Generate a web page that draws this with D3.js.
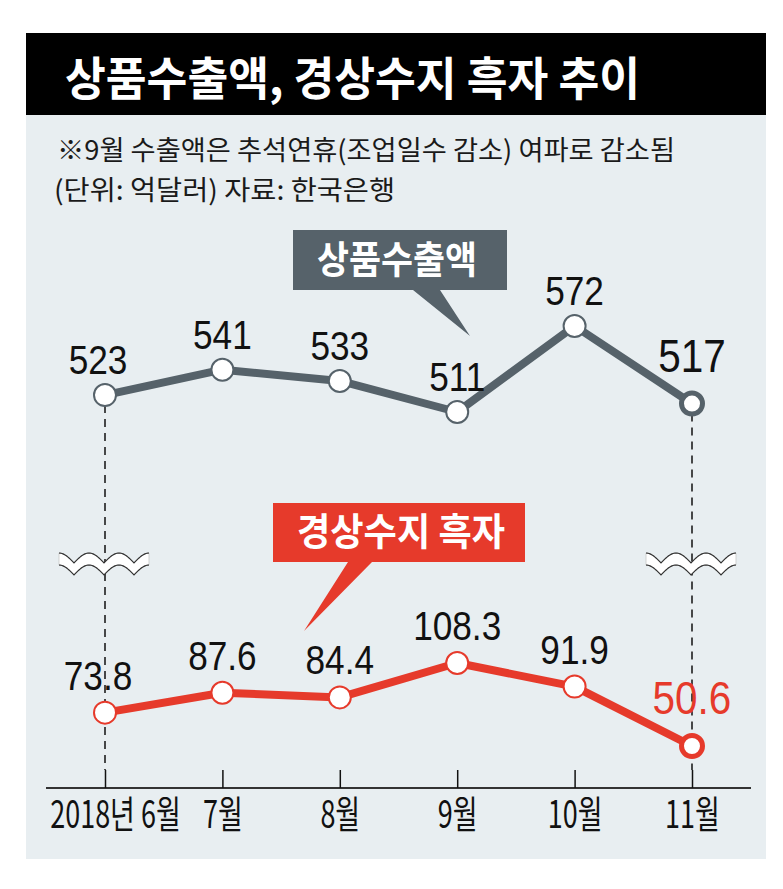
<!DOCTYPE html>
<html>
<head>
<meta charset="utf-8">
<script src="https://cdn.jsdelivr.net/npm/d3@7"></script>
<style>
body { margin: 0; background: #ffffff; }
</style>
</head>
<body>
<svg id="chart" width="783" height="889"></svg>
<script>
//Data
var months = ["2018년 6월", "7월", "8월", "9월", "10월", "11월"];
var exportValues = [523, 541, 533, 511, 572, 517];
var surplusValues = [73.8, 87.6, 84.4, 108.3, 91.9, 50.6];
var titleText = "상품수출액, 경상수지 흑자 추이";
var noteText = "※9월 수출액은 추석연휴(조업일수 감소) 여파로 감소됨";
var unitText = "(단위: 억달러) 자료: 한국은행";
var exportName = "상품수출액";
var surplusName = "경상수지 흑자";

var grayColor = "#56626a";
var redColor = "#e63a2b";
var krFont = "'Noto Sans CJK KR', 'Noto Sans', sans-serif";
var numFont = "'Liberation Sans', Arial, sans-serif";

var svg = d3.select("#chart");

//Squeeze text to look condensed
function condense(sel, k) {
    sel.each(function() {
        var w = this.getComputedTextLength();
        d3.select(this).attr("textLength", w * k).attr("lengthAdjust", "spacingAndGlyphs");
    });
}
function fitWidth(sel, w) {
    sel.attr("textLength", w).attr("lengthAdjust", "spacingAndGlyphs");
}

//Panel + title bar
svg.append("rect").attr("x", 26).attr("y", 115).attr("width", 740).attr("height", 744).style("fill", "#e8eef1");
svg.append("rect").attr("x", 26).attr("y", 33).attr("width", 740).attr("height", 82).style("fill", "#000000");

svg.append("text")
    .attr("x", 65).attr("y", 95)
    .style("font-family", krFont).style("font-weight", "bold").style("font-size", "46px")
    .style("fill", "#ffffff")
    .text(titleText)
    .call(fitWidth, 575);

svg.append("text")
    .attr("x", 57).attr("y", 160)
    .style("font-family", krFont).style("font-size", "27px").style("fill", "#1a1a1a")
    .text(noteText)
    .call(fitWidth, 618);

svg.append("text")
    .attr("x", 54).attr("y", 199.5)
    .style("font-family", krFont).style("font-size", "27px").style("fill", "#1a1a1a")
    .text(unitText)
    .call(fitWidth, 341);

//Scales
var xScale = d3.scalePoint().domain(months).range([105, 692]);
var yTop = d3.scaleLinear().domain([511, 572]).range([412, 326]);
var yBottom = d3.scaleLinear().domain([50.6, 108.3]).range([746, 663]);
var axisY = 788;

//Dashed guides on first and last month
var guideMonths = [months[0], months[months.length - 1]];
svg.append("g")
    .selectAll("line")
    .data(guideMonths)
    .enter()
    .append("line")
    .attr("x1", function(d){ return xScale(d); })
    .attr("x2", function(d){ return xScale(d); })
    .attr("y1", function(d){ return yTop(exportValues[months.indexOf(d)]) + 10; })
    .attr("y2", axisY - 18)
    .style("stroke", "#111")
    .style("stroke-width", 1.5)
    .style("stroke-dasharray", "8,6");

//Wave break marks
function waveCurve(x0, y0) {
    var pts = [];
    for (var i = 0; i <= 90; i++) {
        pts.push([x0 + i, y0 + 10 * (1 - Math.abs(Math.cos(Math.PI * i / 30)))]);
    }
    return pts;
}
var waves = svg.append("g");
guideMonths.forEach(function(m) {
    var x0 = xScale(m) - 46;
    var top = waveCurve(x0, 553);
    var bottom = waveCurve(x0, 565);
    var area = top.concat(bottom.slice().reverse());
    waves.append("path")
        .attr("d", d3.line()(area) + "Z")
        .style("fill", "#ffffff")
        .style("stroke", "#c8c8c8")
        .style("stroke-width", 0.8);
    [top, bottom].forEach(function(c) {
        waves.append("path")
            .attr("d", d3.line()(c))
            .style("fill", "none")
            .style("stroke", "#333")
            .style("stroke-width", 1.2);
    });
});

//Series
function drawSeries(values, yScale, color, labelFmt, dyLabel) {
    var data = values.map(function(v, i){ return { m: months[i], v: v, i: i }; });
    var last = values.length - 1;
    var g = svg.append("g");

    g.append("path")
        .datum(data)
        .attr("d", d3.line()
            .x(function(d){ return xScale(d.m); })
            .y(function(d){ return yScale(d.v); }))
        .style("fill", "none")
        .style("stroke", color)
        .style("stroke-width", 8)
        .style("stroke-linejoin", "round");

    g.selectAll("circle")
        .data(data)
        .enter()
        .append("circle")
        .attr("cx", function(d){ return xScale(d.m); })
        .attr("cy", function(d){ return yScale(d.v); })
        .attr("r", function(d){ return d.i === last ? 10.5 : 11; })
        .style("fill", "#ffffff")
        .style("stroke", color)
        .style("stroke-width", function(d){ return d.i === last ? 5 : 2; });

    g.selectAll("text")
        .data(data)
        .enter()
        .append("text")
        .attr("x", function(d){
            var dx = d.i === 0 ? -7 : 0;
            return xScale(d.m) + dx;
        })
        .attr("y", function(d){ return yScale(d.v) - (d.i === last ? 32 : dyLabel); })
        .attr("text-anchor", "middle")
        .style("font-family", numFont)
        .style("font-size", function(d){ return d.i === last ? "46px" : "40px"; })
        .style("fill", function(d){ return (d.i === last && color === redColor) ? redColor : "#111"; })
        .text(function(d){ return labelFmt(d.v); })
        .call(condense, 0.88);
}
drawSeries(exportValues, yTop, grayColor, d3.format("d"), 21);
drawSeries(surplusValues, yBottom, redColor, d3.format(".1f"), 23);

//Callouts
function callout(name, color, box, tail, textX, textY, textW) {
    var pts = [
        [box.x0, box.y0], [box.x1, box.y0], [box.x1, box.y1],
        [tail[2][0], box.y1], tail[1], [tail[0][0], box.y1],
        [box.x0, box.y1]
    ];
    svg.append("path")
        .attr("d", d3.line()(pts) + "Z")
        .style("fill", color);
    svg.append("text")
        .attr("x", textX).attr("y", textY)
        .attr("text-anchor", "middle")
        .style("font-family", krFont).style("font-weight", "bold").style("font-size", "38px")
        .style("fill", "#ffffff")
        .text(name)
        .call(fitWidth, textW);
}
callout(exportName, grayColor, { x0: 293, y0: 230, x1: 507, y1: 290 },
        [[413, 290], [470, 336], [440, 290]], 397, 273, 160);
callout(surplusName, redColor, { x0: 273, y0: 503, x1: 525, y1: 562 },
        [[348, 562], [304, 631], [372, 562]], 401, 545, 208);

//X-axis
svg.append("line")
    .attr("x1", 46).attr("x2", 751)
    .attr("y1", axisY).attr("y2", axisY)
    .style("stroke", "#333").style("stroke-width", 2);

var xAxisGen = d3.axisBottom(xScale).tickSize(-18).tickPadding(16);
var xAxis = svg.append("g")
    .attr("transform", "translate(0," + axisY + ")")
    .call(xAxisGen);
xAxis.select(".domain").remove();
xAxis.selectAll(".tick line").style("stroke", "#111").style("stroke-width", 1.5);
xAxis.selectAll(".tick text")
    .attr("x", 0)
    .attr("y", 0)
    .attr("dy", null)
    .attr("transform", function(d, i){
        return "translate(" + (i === 0 ? 10 : 0) + ",40) scale(0.71,1)";
    })
    .style("font-family", krFont)
    .style("font-size", "38px")
    .style("fill", "#111");
</script>
</body>
</html>
